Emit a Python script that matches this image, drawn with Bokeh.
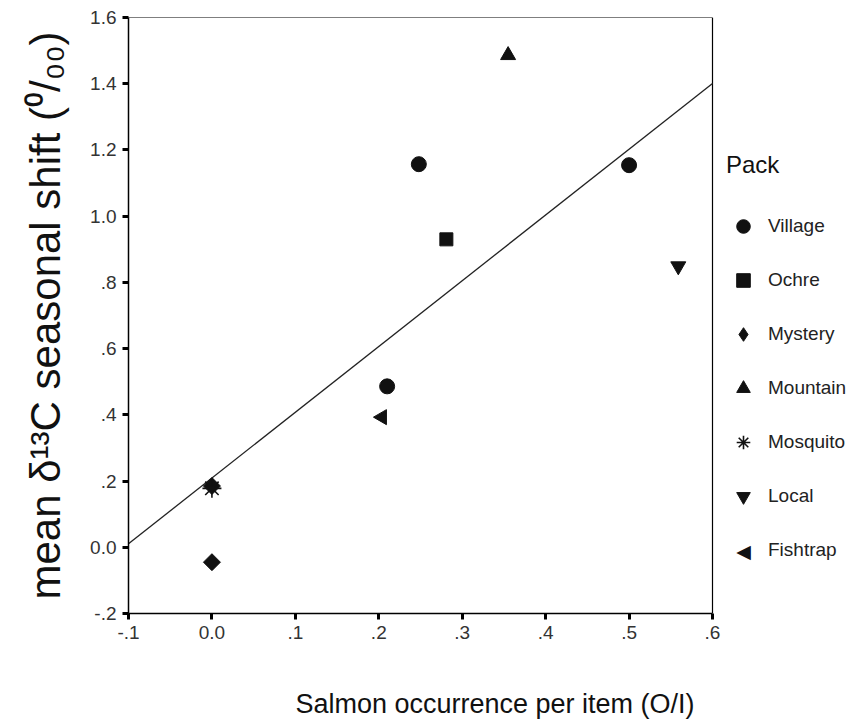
import numpy as np
from bokeh.plotting import figure
from bokeh.models import Range1d, FixedTicker, Legend, LegendItem, Label
from bokeh.embed import file_html
from bokeh.resources import INLINE

# ---- data ----
village_x = [0.248, 0.210, 0.500]
village_y = [1.157, 0.486, 1.154]
ochre_x = [0.281]
ochre_y = [0.930]
mystery_x = [0.000, 0.000]
mystery_y = [-0.045, 0.185]
mountain_x = [0.355]
mountain_y = [1.486]
mosquito_x = [0.000]
mosquito_y = [0.178]
local_x = [0.559]
local_y = [0.849]
fishtrap_x = [0.204]
fishtrap_y = [0.393]

x_ticks = [-0.1, 0.0, 0.1, 0.2, 0.3, 0.4, 0.5, 0.6]
x_tick_labels = ["-.1", "0.0", ".1", ".2", ".3", ".4", ".5", ".6"]
y_ticks = [-0.2, 0.0, 0.2, 0.4, 0.6, 0.8, 1.0, 1.2, 1.4, 1.6]
y_tick_labels = ["-.2", "0.0", ".2", ".4", ".6", ".8", "1.0", "1.2", "1.4", "1.6"]

FONT = "Liberation Sans"

# layout: plot box 584 px wide for the x span; the frame extends to the right
# edge so that the legend (drawn inside the frame) is not clipped
W, H = 861, 723
LEFT, TOP, BOTTOM = 128, 17, 110
BOX_W = 584
x0, x1 = x_ticks[0], x_ticks[-1]
x_extra_end = x0 + (x1 - x0) * (W - LEFT) / BOX_W

p = figure(width=W, height=H, output_backend="svg", toolbar_location=None,
           x_range=Range1d(x0, x_extra_end),
           y_range=Range1d(y_ticks[0], y_ticks[-1]),
           min_border_left=LEFT, min_border_top=TOP, min_border_bottom=BOTTOM,
           min_border_right=0)
p.grid.visible = False
p.outline_line_color = None
p.background_fill_color = "white"
p.border_fill_color = "white"

for ax in (p.xaxis[0], p.yaxis[0]):
    ax.axis_line_color = "black"
    ax.axis_line_width = 1.5
    ax.major_tick_line_color = "black"
    ax.major_tick_line_width = 3
    ax.major_tick_out = 6
    ax.major_tick_in = 0
    ax.minor_tick_line_color = None
    ax.major_label_text_font = FONT
    ax.major_label_text_font_size = "19px"
    ax.major_label_text_color = "#333333"
    ax.axis_label_text_font = FONT
    ax.axis_label_text_font_style = "normal"
    ax.axis_label_text_color = "#111111"

p.xaxis.bounds = (x0, x1)
p.xaxis.ticker = FixedTicker(ticks=x_ticks)
p.xaxis.major_label_overrides = {t: l for t, l in zip(x_ticks, x_tick_labels)}
p.yaxis.ticker = FixedTicker(ticks=y_ticks)
p.yaxis.major_label_overrides = {t: l for t, l in zip(y_ticks, y_tick_labels)}
p.xaxis.major_label_standoff = 6
p.yaxis.major_label_standoff = 6

p.xaxis.axis_label = "Salmon occurrence per item (O/I)"
p.xaxis.axis_label_text_font_size = "27px"
p.xaxis.axis_label_standoff = 47
p.yaxis.axis_label = "mean \u03b4\u00b9\u00b3C seasonal shift (\u2070/\u2080\u2080)"
p.yaxis.axis_label_text_font_size = "42px"
p.yaxis.axis_label_standoff = 18

# top and right sides of the plot box
p.line([x0, x1], [y_ticks[-1], y_ticks[-1]], line_color="black", line_width=1.2)
p.line([x1, x1], [y_ticks[0], y_ticks[-1]], line_color="black", line_width=1.2)

# regression line fitted to all points
all_x = np.array(village_x + ochre_x + mystery_x + mountain_x + mosquito_x + local_x + fishtrap_x)
all_y = np.array(village_y + ochre_y + mystery_y + mountain_y + mosquito_y + local_y + fishtrap_y)
slope, intercept = np.polyfit(all_x, all_y, 1)
lx = np.array([x0, x1])
p.line(lx, intercept + slope * lx, line_color="#222222", line_width=1.3)

c = "#111111"
# legend-key glyph for Mystery, drawn underneath the plotted symbols (hidden by them)
lg_mystery = p.scatter(mystery_x, mystery_y, marker="diamond", size=15, fill_color=c, line_color=c)

r_village = p.scatter(village_x, village_y, marker="circle", size=15, fill_color=c, line_color=c)
r_ochre = p.scatter(ochre_x, ochre_y, marker="square", size=13, fill_color=c, line_color=c)
r_mystery = p.scatter(mystery_x, mystery_y, marker="square", size=12, angle=np.pi / 4,
                      fill_color=c, line_color=c)
r_mountain = p.scatter(mountain_x, mountain_y, marker="triangle", size=15, fill_color=c, line_color=c)
r_mosquito = p.scatter(mosquito_x, mosquito_y, marker="asterisk", size=19, angle=np.pi / 2,
                       line_color=c, line_width=1.6)
r_local = p.scatter(local_x, local_y, marker="inverted_triangle", size=15, fill_color=c, line_color=c)
r_fishtrap = p.scatter(fishtrap_x, fishtrap_y, marker="triangle", size=15, angle=np.pi / 2,
                       fill_color=c, line_color=c)
# invisible stand-in so the Fishtrap legend row has no upright-triangle key
lg_fishtrap = p.scatter(fishtrap_x, fishtrap_y, marker="triangle", size=1,
                        fill_alpha=0, line_alpha=0)

items = [
    LegendItem(label="Village", renderers=[r_village]),
    LegendItem(label="Ochre", renderers=[r_ochre]),
    LegendItem(label="Mystery", renderers=[lg_mystery]),
    LegendItem(label="Mountain", renderers=[r_mountain]),
    LegendItem(label="Mosquito", renderers=[r_mosquito]),
    LegendItem(label="Local", renderers=[r_local]),
    LegendItem(label="Fishtrap", renderers=[lg_fishtrap]),
]
LEG_X, LEG_Y = 598, 46
GLYPH = 34
legend = Legend(items=items, title="Pack", location=(LEG_X, LEG_Y),
                title_text_font=FONT, title_text_font_size="24px", title_text_font_style="normal",
                title_text_color="#111111", title_standoff=30,
                label_text_font=FONT, label_text_font_size="19px", label_text_color="#222222",
                label_standoff=8, glyph_width=GLYPH, glyph_height=GLYPH, label_height=GLYPH,
                spacing=20, padding=0, margin=0,
                border_line_alpha=0, background_fill_alpha=0)
p.add_layout(legend)

# left-pointing key for the last legend row (Fishtrap)
p.add_layout(Label(x=LEG_X + GLYPH / 2, y=LEG_Y + GLYPH / 2, x_units="screen", y_units="screen",
                   text="\u25c0", text_font="DejaVu Sans", text_font_size="19px",
                   text_color=c, text_align="center", text_baseline="middle"))

open("out.html", "w").write(file_html(p, INLINE))
